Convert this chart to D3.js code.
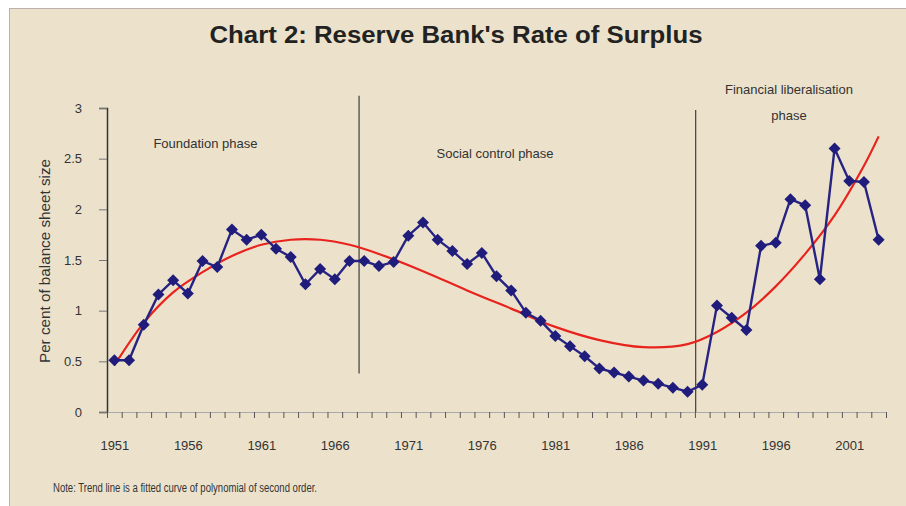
<!DOCTYPE html>
<html>
<head>
<meta charset="utf-8">
<script src="https://cdn.jsdelivr.net/npm/d3@7"></script>
<style>
  body { margin: 0; background: #ffffff; }
  svg { display: block; font-family: "Liberation Sans", Arial, sans-serif; }
</style>
</head>
<body>
<div id="chart"></div>
<script>
// Surplus as per cent of balance sheet size, 1951 - 2003
const years = d3.range(1951, 2004);
const surplus = [
  0.51, 0.51, 0.86, 1.16, 1.30, 1.17, 1.49, 1.43, 1.80, 1.70,
  1.75, 1.61, 1.53, 1.26, 1.41, 1.31, 1.49, 1.49, 1.44, 1.48,
  1.74, 1.87, 1.70, 1.59, 1.46, 1.57, 1.34, 1.20, 0.98, 0.90,
  0.75, 0.65, 0.55, 0.43, 0.39, 0.35, 0.31, 0.28, 0.24, 0.20,
  0.27, 1.05, 0.93, 0.81, 1.64, 1.67, 2.10, 2.04, 1.31, 2.60,
  2.28, 2.27, 1.70
];

// trend line
const trendYears = [1951, 1953, 1955, 1957, 1959, 1961, 1963, 1965, 1967, 1969,
  1972, 1975, 1978, 1981, 1984, 1987, 1990, 1992, 1994, 1996, 1998, 2000, 2002, 2003];
const trendValues = [0.46, 0.88, 1.18, 1.38, 1.54, 1.65, 1.70, 1.70, 1.65, 1.56,
  1.39, 1.20, 1.02, 0.84, 0.71, 0.64, 0.67, 0.79, 0.98, 1.24, 1.56, 1.94, 2.43, 2.72];

const yTicks = [0, 0.5, 1, 1.5, 2, 2.5, 3];
const xLabelYears = [1951, 1956, 1961, 1966, 1971, 1976, 1981, 1986, 1991, 1996, 2001];

const phaseBreaks = [1967.65, 1990.55];
const phases = [
  { lines: ["Foundation phase"], year: 1957.2, value: [2.65] },
  { lines: ["Social control phase"], year: 1976.9, value: [2.56] },
  { lines: ["Financial liberalisation", "phase"], year: 1996.9, value: [3.19, 2.93] }
];

const width = 906;
const height = 506;

const svg = d3.select("#chart").append("svg")
  .attr("width", width)
  .attr("height", height);

svg.append("rect")
  .attr("x", 9.5)
  .attr("y", 8.5)
  .attr("width", width)
  .attr("height", height)
  .attr("fill", "#ece2cb")
  .attr("stroke", "#b9b1aa");

const x = d3.scaleLinear().domain([1950.5, 2003.5]).range([107, 886]);
const y = d3.scaleLinear().domain([0, 3]).range([412, 108]);

svg.append("text")
  .attr("x", 456)
  .attr("y", 43)
  .attr("text-anchor", "middle")
  .attr("textLength", 493)
  .attr("lengthAdjust", "spacingAndGlyphs")
  .style("font-size", "23px")
  .style("font-weight", "bold")
  .style("fill", "#222")
  .text("Chart 2: Reserve Bank's Rate of Surplus");

// y axis
const yAxis = svg.append("g")
  .attr("transform", "translate(107,0)")
  .call(d3.axisLeft(y).tickValues(yTicks).tickSize(8).tickPadding(17)
    .tickFormat(d3.format("")));
yAxis.select(".domain").attr("stroke", "#333").attr("stroke-width", 1.5);
yAxis.selectAll(".tick line").attr("stroke", "#777");
yAxis.selectAll("text").style("font-size", "13px").style("fill", "#333");

// x axis: tick marks on year boundaries, labels every fifth year
const xAxis = svg.append("g")
  .attr("transform", "translate(0,412)")
  .call(d3.axisBottom(x).tickValues(d3.range(1950.5, 2004, 1)).tickSize(6)
    .tickFormat(""));
xAxis.select(".domain").attr("stroke", "#aaa");
xAxis.selectAll(".tick line").attr("stroke", "#555");

const xLabels = svg.append("g")
  .attr("transform", "translate(0,412)")
  .call(d3.axisBottom(x).tickValues(xLabelYears).tickSize(0).tickPadding(29)
    .tickFormat(d3.format("d")));
xLabels.select(".domain").remove();
xLabels.selectAll("text").style("font-size", "13px").style("fill", "#333");

svg.append("text")
  .attr("transform", "translate(50,261) rotate(-90)")
  .attr("text-anchor", "middle")
  .attr("textLength", 204)
  .attr("lengthAdjust", "spacingAndGlyphs")
  .style("font-size", "14px")
  .style("fill", "#333")
  .text("Per cent of balance sheet size");

// phase separators
svg.selectAll(".phase-line")
  .data(phaseBreaks)
  .enter()
  .append("line")
  .attr("class", "phase-line")
  .attr("x1", (d) => x(d))
  .attr("x2", (d) => x(d))
  .attr("y1", (d, i) => (i === 0 ? y(3.12) : y(2.98)))
  .attr("y2", (d, i) => (i === 0 ? y(0.38) : y(0)))
  .attr("stroke", "#4a4a4a")
  .attr("stroke-width", 1.3);

phases.forEach((p) => {
  p.lines.forEach((line, i) => {
    svg.append("text")
      .attr("x", x(p.year))
      .attr("y", y(p.value[i]) + 5)
      .attr("text-anchor", "middle")
      .style("font-size", "13px")
      .style("fill", "#333")
      .text(line);
  });
});

// trend line
const trendLine = d3.line()
  .x((d, i) => x(trendYears[i]))
  .y((d) => y(d))
  .curve(d3.curveCatmullRom.alpha(0.5));

svg.append("path")
  .datum(trendValues)
  .attr("d", trendLine)
  .attr("fill", "none")
  .attr("stroke", "#e8231e")
  .attr("stroke-width", 2.2);

// surplus series
const surplusLine = d3.line()
  .x((d, i) => x(years[i]))
  .y((d) => y(d));

svg.append("path")
  .datum(surplus)
  .attr("d", surplusLine)
  .attr("fill", "none")
  .attr("stroke", "#262382")
  .attr("stroke-width", 2.4);

svg.selectAll(".marker")
  .data(surplus)
  .enter()
  .append("path")
  .attr("class", "marker")
  .attr("d", d3.symbol(d3.symbolSquare).size(72))
  .attr("transform", (d, i) => `translate(${x(years[i])},${y(d)}) rotate(45)`)
  .attr("fill", "#1f1c7c");

svg.append("text")
  .attr("x", 53)
  .attr("y", 492)
  .attr("textLength", 264)
  .attr("lengthAdjust", "spacingAndGlyphs")
  .style("font-size", "12px")
  .style("fill", "#333")
  .text("Note: Trend line is a fitted curve of polynomial of second order.");
</script>
</body>
</html>
